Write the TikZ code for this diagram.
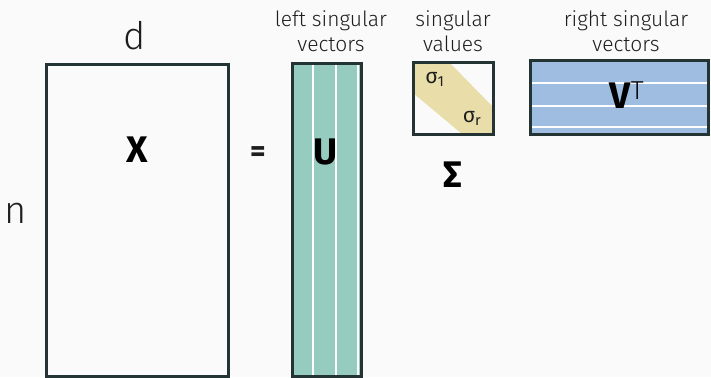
\documentclass[tikz,border=0pt]{standalone}
\usepackage{fontspec}
\setmainfont{Fira Sans}[UprightFont=* Light, BoldFont=* Bold]
\newfontfamily\firaregular{Fira Sans}
\begin{document}
\begin{tikzpicture}[x=1pt,y=-1pt,
  frame/.style={draw=boxline,line width=3pt},
  sep/.style={draw=white,line width=1.2pt},
  lbl/.style={font=\fontsize{21}{25}\selectfont,align=center,text=ink},
  dim/.style={font=\fontsize{38}{40}\selectfont,text=ink},
  big/.style={font=\fontsize{37}{40}\selectfont\bfseries,text=black},
  sig/.style={font=\firaregular\fontsize{21}{22}\selectfont,text=ink,inner sep=0pt}]
\definecolor{boxline}{HTML}{243333}
\definecolor{ink}{HTML}{1E1E1E}
\definecolor{ufill}{HTML}{95CCBF}
\definecolor{sfill}{HTML}{E9DEAA}
\definecolor{vfill}{HTML}{9FBDE1}
\definecolor{bg}{HTML}{FAFAFA}
\fill[bg] (0,0) rectangle (711,377);
\useasboundingbox (0,0) rectangle (711,377);

% X
\draw[frame] (46,65) rectangle (228,376);
\node[big] (X) at (137,150) {X};
\node[dim] (d) at (135,36) {d};
\node[dim] (n) at (16,213) {n};
\node[font=\fontsize{30}{32}\selectfont\bfseries,text=ink] (eq) at (258,154) {=};

% U
\fill[ufill] (292,64) rectangle (361,376);
\foreach \c in {313,336,358} \draw[sep] (\c,65) -- (\c,376);
\draw[frame] (292,64) rectangle (361,376);
\node[big] (U) at (326,152) {U};
\node[lbl] (ul) at (331,31) {left singular\\vectors};

% Sigma
\fill[sfill] (413,63) -- (450,63) -- (493,107) -- (493,134) -- (462,134) -- (413,93) -- cycle;
\draw[frame] (413,63) rectangle (493,134);
\node[sig] (s1) at (435,79) {σ\textsubscript{1}};
\node[sig] (sr) at (472,118) {σ\textsubscript{r}};
\node[big] (S) at (453,175) {Σ};
\node[lbl] (sl) at (453,31) {singular\\values};

% V transpose
\fill[vfill] (530,61) rectangle (708,134);
\foreach \r in {83,106,127} \draw[sep] (531,\r) -- (707,\r);
\draw[frame] (530,61) rectangle (708,134);
\node[big] (V) at (627,95) {V\textsuperscript{\mdseries T}};
\node[lbl] (vl) at (626,31) {right singular\\vectors};
\end{tikzpicture}
\end{document}
